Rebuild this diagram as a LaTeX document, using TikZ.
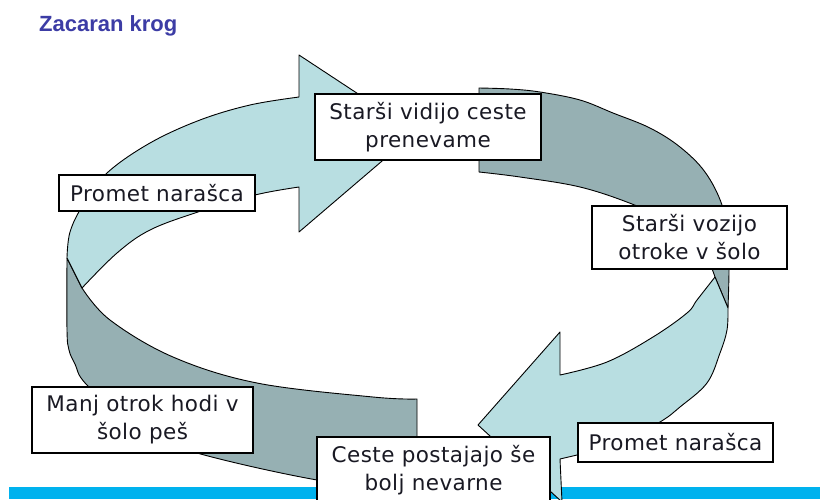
\documentclass[tikz,border=0pt]{standalone}
\usepackage{fontspec}
\setmainfont[LetterSpace=2]{DejaVu Sans}
\newfontfamily\titlefont{Liberation Sans}
\definecolor{lightface}{RGB}{184,222,225}
\definecolor{darkface}{RGB}{150,176,179}
\definecolor{barblue}{RGB}{0,178,238}
\definecolor{titleblue}{RGB}{60,60,165}
\definecolor{txt}{RGB}{25,25,35}
\begin{document}
\begin{tikzpicture}[x=1pt,y=-1pt,
  lightshape/.style={fill=lightface,draw=black,line width=0.9pt,line join=round},
  darkshape/.style={fill=darkface,draw=black,line width=0.9pt,line join=round},
  box/.style={draw=black,line width=1.2pt,fill=white,inner sep=0pt,align=center,
    text=txt,font=\fontsize{21.5}{28}\selectfont}]
\useasboundingbox (0,0) rectangle (820,499);
\fill[white] (0,0) rectangle (820,499);
% title
\node[anchor=base west,inner sep=0pt,text=titleblue,font=\titlefont\bfseries\fontsize{22}{24}\selectfont] (title) at (39,31.7) {Zacaran krog};
% bottom bar
\fill[barblue] (9,487) rectangle (820,499);
% dark back bands
\draw[darkshape] (67,258) -- plot[smooth,tension=0.6] coordinates {(67,258) (67,330) (69,350) (75,364) (87,385) (140,430) (197,453) (317,480) (417,492)} -- (417,399) -- plot[smooth,tension=0.6] coordinates {(417,399) (373,397) (257,383) (173,357) (110,320) (82,288)} -- cycle;
\draw[darkshape] (479,88) -- plot[smooth,tension=0.6] coordinates {(479,88) (510,89) (540,92) (580,100) (613,113) (650,128) (680,147) (705,172) (722,205) (728,240) (729,270) (728,308)} -- (715,277) -- plot[smooth,tension=0.6] coordinates {(715,277) (700,245) (670,222) (632,204) (580,187) (520,177) (479,172)} -- cycle;
% light front arrows
\draw[lightshape] (67,258) -- (82,288) -- plot[smooth,tension=0.6] coordinates {(82,288) (117,253) (150,230) (198,212) (255,195) (299,187)} -- (299,232) -- (416,132) -- (299,55) -- (299,97) -- plot[smooth,tension=0.6] coordinates {(299,97) (250,105) (200,120) (150,143) (107,173) (83,205) (70,232) (67,258)} -- cycle;
\draw[lightshape] (715,277) -- (728,308) -- plot[smooth,tension=0.6] coordinates {(728,308) (727,330) (720,353) (707,383) (680,407) (660,422) (620,443) (577,455)} -- (560,459) -- (562,502) -- (478,425) -- (560,332) -- (560,375) -- plot[smooth,tension=0.6] coordinates {(560,375) (607,362) (653,337) (687,313) (697,300) (715,277)} -- cycle;
% boxes
\node[box,minimum width=226pt,minimum height=66pt] (b1) at (428,127) {Starši vidijo ceste\\prenevame};
\node[box,minimum width=195pt,minimum height=63pt] (b2) at (689.5,237.5) {Starši vozijo\\otroke v šolo};
\node[box,minimum width=195pt,minimum height=39pt] (b3) at (675.5,442.5) {Promet narašca};
\node[box,minimum width=233pt,minimum height=66pt] (b4) at (433.5,470) {Ceste postajajo še\\bolj nevarne};
\node[box,minimum width=221pt,minimum height=66pt] (b5) at (142.5,420) {Manj otrok hodi v\\šolo peš};
\node[box,minimum width=196pt,minimum height=36pt] (b6) at (157,193) {Promet narašca};
\end{tikzpicture}
\end{document}
